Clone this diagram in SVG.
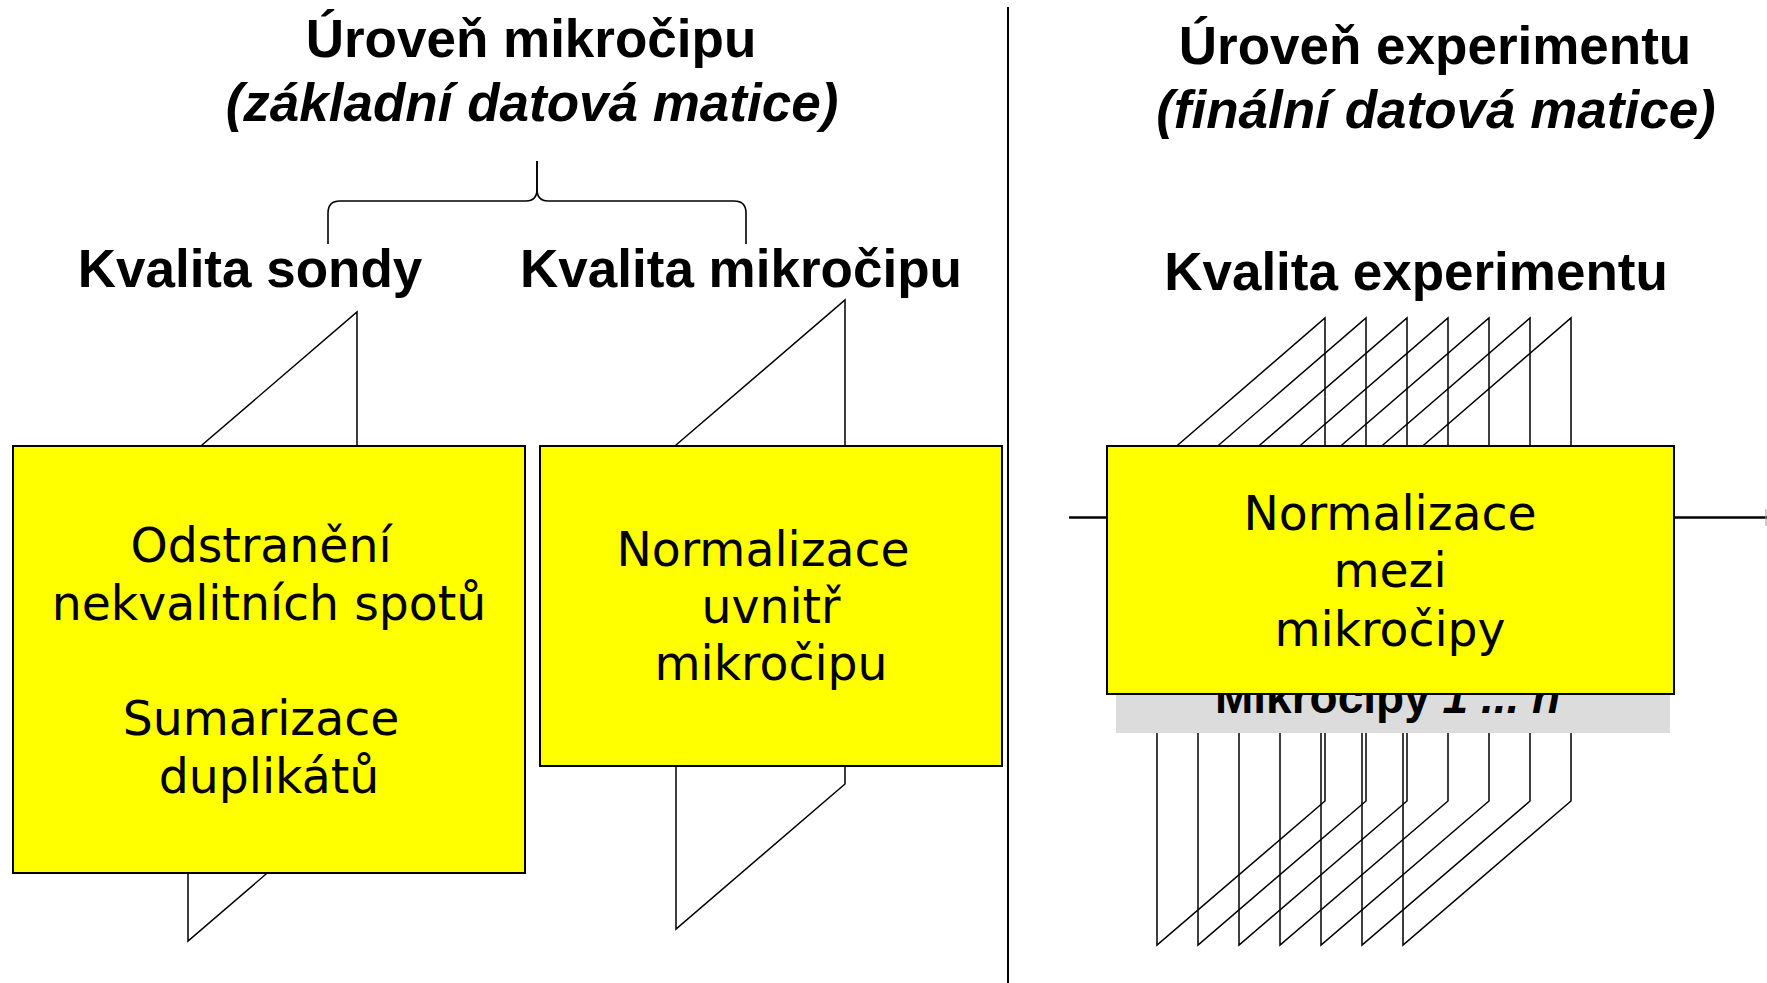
<svg xmlns="http://www.w3.org/2000/svg" width="1767" height="983" viewBox="0 0 1767 983">
  <style>
    .bg { fill: #ffffff; }
    .plane { fill: none; stroke: #000000; stroke-width: 1.5; stroke-linejoin: miter; }
    .box { fill: #ffff00; stroke: #000000; stroke-width: 2; }
    .gray { fill: #dcdcdc; stroke: none; }
    .title { font-family: "Liberation Sans", Arial, sans-serif; font-weight: bold; font-size: 53px; fill: #000000; text-anchor: middle; }
    .ital { font-style: italic; }
    .boxtext { font-family: "DejaVu Sans", Verdana, sans-serif; font-size: 47.3px; fill: #000000; text-anchor: middle; }
    .graytext { font-family: "Liberation Sans", Arial, sans-serif; font-weight: bold; font-size: 46px; fill: #000000; }
    .conn { fill: none; stroke: #000000; stroke-width: 1.6; }
    .hline { fill: none; stroke: #000000; stroke-width: 2.5; }
    .divider { fill: none; stroke: #000000; stroke-width: 2; }
  </style>
  <defs>
    <path id="plane" d="M0,145 L169,0 L169,484 L0,629 Z"/>
    <path id="planeR" d="M0,145 L168,0 L168,483 L0,627 Z"/>
  </defs>

  <rect class="bg" x="0" y="0" width="1767" height="983"/>

  <!-- divider -->
  <line class="divider" x1="1008" y1="7" x2="1008" y2="983"/>

  <!-- connectors -->
  <g id="connectors">
    <path class="conn" d="M328,244 L328,213 Q328,201 340,201 L526,201 Q537,201 537,189 L537,161"/>
    <path class="conn" d="M537,161 L537,189 Q537,201 548,201 L734,201 Q746,201 746,213 L746,244"/>
    <line class="hline" x1="1069" y1="517.5" x2="1767" y2="517.5"/>
    <line x1="1766" y1="509" x2="1766" y2="526" stroke="#999999" stroke-width="1"/>
  </g>

  <!-- titles -->
  <g id="title-chip">
    <text class="title" x="531" y="57">Úroveň mikročipu</text>
    <text class="title ital" x="532" y="121">(základní datová matice)</text>
  </g>
  <g id="title-experiment">
    <text class="title" x="1435" y="64">Úroveň experimentu</text>
    <text class="title ital" x="1436" y="128">(finální datová matice)</text>
  </g>
  <g id="label-sonda">
    <text class="title" x="250" y="287">Kvalita sondy</text>
  </g>
  <g id="label-mikrocip">
    <text class="title" x="741" y="287">Kvalita mikročipu</text>
  </g>
  <g id="label-experiment">
    <text class="title" x="1416" y="290">Kvalita experimentu</text>
  </g>

  <!-- node 1 -->
  <g id="node-sonda">
    <use href="#plane" class="plane" transform="translate(188,312)"/>
    <rect class="box" x="13" y="446" width="512" height="427"/>
    <text class="boxtext" x="261" y="562">Odstranění</text>
    <text class="boxtext" x="269" y="620">nekvalitních spotů</text>
    <text class="boxtext" x="261" y="735">Sumarizace</text>
    <text class="boxtext" x="269" y="793">duplikátů</text>
  </g>

  <!-- node 2 -->
  <g id="node-mikrocip">
    <use href="#plane" class="plane" transform="translate(676,300)"/>
    <rect class="box" x="540" y="446" width="462" height="320"/>
    <text class="boxtext" x="763" y="566">Normalizace</text>
    <text class="boxtext" x="771" y="623">uvnitř</text>
    <text class="boxtext" x="771" y="680">mikročipu</text>
  </g>

  <!-- node 3 -->
  <g id="node-experiment">
    <use href="#planeR" class="plane" transform="translate(1157,318)"/>
    <use href="#planeR" class="plane" transform="translate(1198,318)"/>
    <use href="#planeR" class="plane" transform="translate(1239,318)"/>
    <use href="#planeR" class="plane" transform="translate(1280,318)"/>
    <use href="#planeR" class="plane" transform="translate(1321,318)"/>
    <use href="#planeR" class="plane" transform="translate(1362,318)"/>
    <use href="#planeR" class="plane" transform="translate(1403,318)"/>
    <g id="label-mikrocipy">
      <rect class="gray" x="1116" y="640" width="554" height="93"/>
      <text class="graytext" x="1215" y="713">Mikročipy<tspan class="ital"> 1 ... n</tspan></text>
    </g>
    <rect class="box" x="1107" y="446" width="567" height="248"/>
    <text class="boxtext" x="1390" y="530">Normalizace</text>
    <text class="boxtext" x="1390" y="587">mezi</text>
    <text class="boxtext" x="1390" y="646">mikročipy</text>
  </g>
</svg>
